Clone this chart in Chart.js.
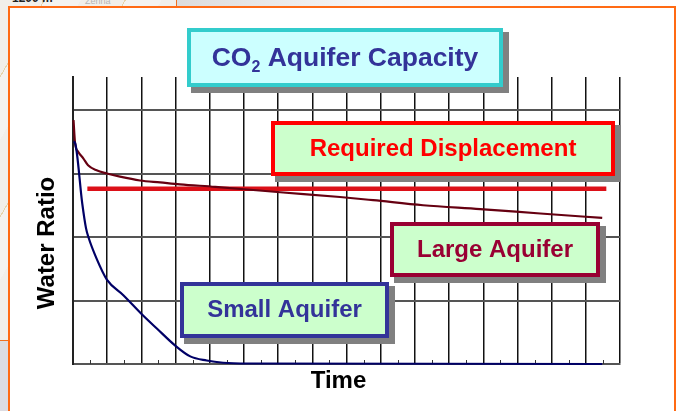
<!DOCTYPE html>
<html>
<head>
<meta charset="utf-8">
<title>CO2 Aquifer Capacity</title>
<script src="https://cdn.jsdelivr.net/npm/chart.js@4"></script>
<style>
  html, body { margin: 0; padding: 0; background: #fff; overflow: hidden; }
  #page { position: relative; width: 679px; height: 411px; overflow: hidden; }
  /* bits of the slide behind the chart frame */
  #map { position: absolute; left: 0; top: 0; width: 176px; height: 340px; background: repeating-linear-gradient(120deg, #f1efea 0 38px, #e6d3ab 38px 39px, #f4f3f0 39px 70px); border-right: 1px solid #f07020; border-bottom: 1px solid #f07020; overflow: hidden; }
  #grey { position: absolute; left: 0; top: 341px; width: 8px; height: 70px; background: #dcdce2; }
  #fade { position: absolute; left: 177px; top: 0; width: 502px; height: 6px; background: linear-gradient(90deg, #dcdcdc, #f8f8f8 40%, #fff); }
  #scrap { position: absolute; left: 12px; top: -9px; font: bold 12px "Liberation Sans", sans-serif; color: #222; }
  #zehna { position: absolute; left: 85px; top: -4px; font: 9px "Liberation Sans", sans-serif; color: #b5b5b5; }
  #frame { position: absolute; left: 8px; top: 6px; width: 664px; height: 420px; background: #fff; border: 2px solid #ff6a13; }
  canvas { position: absolute; left: 0; top: 0; }
</style>
</head>
<body>
<div id="page">
  <div id="map"><span id="scrap">1200 m</span><span id="zehna">Zehna</span></div>
  <div id="grey"></div>
  <div id="fade"></div>
  <div id="frame"></div>
  <canvas id="aquifer" width="679" height="411"></canvas>
</div>
<script>
const ctxAquifer = document.getElementById('aquifer').getContext('2d')

// x in grid cells, y in grid rows
const largeX = [0.015, 0.06, 0.155, 0.3, 0.44, 0.69, 0.99, 1.375, 1.96, 2.55, 3.13, 4.16, 6.06, 7.81, 8.78, 10.24, 11.91, 13.67, 15.48]
const largeY = [3.84, 3.48, 3.34, 3.24, 3.13, 3.05, 3.0, 2.95, 2.89, 2.86, 2.83, 2.79, 2.705, 2.63, 2.58, 2.5, 2.44, 2.37, 2.3]
const smallX = [0.015, 0.06, 0.27, 0.38, 0.45, 0.69, 0.99, 1.48, 2.02, 2.46, 2.99, 3.43, 3.91, 4.39, 5.18, 15.48]
const smallY = [3.5, 3.48, 2.53, 2.14, 2.0, 1.66, 1.33, 1.08, 0.78, 0.555, 0.29, 0.12, 0.055, 0.02, 0.008, 0]
const requiredX = [0.42, 15.6]
const requiredY = [2.76, 2.76]
const minorTicks = [0.5, 1.5, 2.5, 3.5, 4.5, 5.5, 6.5, 7.5, 8.5, 9.5, 10.5, 11.5, 12.5, 13.5, 14.5, 15.5]

const toPoints = (xs, ys) => xs.map((x, i) => ({ x: x, y: ys[i] }))
const FONT = '"Liberation Sans", Arial, sans-serif'

// the labelled boxes that sit on top of the plot
const boxes = [
  { x: 187, y: 28, w: 316, h: 59, border: '#33cccc', fill: '#ccffff', color: '#333399', size: 26.5, parts: ['CO', '2', ' Aquifer Capacity'] },
  { x: 271, y: 121, w: 344, h: 55, border: '#ff0000', fill: '#ccffcc', color: '#ff0000', size: 24, parts: ['Required Displacement'] },
  { x: 390, y: 222, w: 210, h: 55, border: '#990033', fill: '#ccffcc', color: '#990033', size: 24, parts: ['Large Aquifer'] },
  { x: 180, y: 282, w: 209, h: 56, border: '#333399', fill: '#ccffcc', color: '#333399', size: 24, parts: ['Small Aquifer'] },
]

const minorTickPlugin = {
  id: 'minorTicks',
  beforeDatasetsDraw(chart) {
    const c = chart.ctx
    const bottom = chart.chartArea.bottom
    c.save()
    c.strokeStyle = '#333'
    c.lineWidth = 1
    minorTicks.forEach(t => {
      const px = Math.round(chart.scales.x.getPixelForValue(t)) + 0.5
      c.beginPath()
      c.moveTo(px, bottom)
      c.lineTo(px, bottom - 4)
      c.stroke()
    })
    c.restore()
  },
}

// axis titles sit off centre in the reference, so they are placed by hand
const axisTitlePlugin = {
  id: 'axisTitles',
  afterDatasetsDraw(chart) {
    const c = chart.ctx
    c.save()
    c.fillStyle = '#000'
    c.font = 'bold 24px ' + FONT
    c.textAlign = 'center'
    c.textBaseline = 'alphabetic'
    c.fillText('Time', 338.5, 388)
    c.translate(54, 243)
    c.rotate(-Math.PI / 2)
    c.fillText('Water Ratio', 0, 0)
    c.restore()
  },
}

const boxPlugin = {
  id: 'boxes',
  afterDraw(chart) {
    const c = chart.ctx
    c.save()
    boxes.forEach(b => {
      c.fillStyle = '#808080'
      c.fillRect(b.x + 4, b.y + 4, b.w + 2, b.h + 2)
      c.fillStyle = b.border
      c.fillRect(b.x, b.y, b.w, b.h)
      c.fillStyle = b.fill
      c.fillRect(b.x + 4, b.y + 4, b.w - 8, b.h - 8)

      const font = 'bold ' + b.size + 'px ' + FONT
      const subFont = 'bold ' + Math.round(b.size * 0.62) + 'px ' + FONT
      const isSub = i => b.parts.length > 1 && i === 1
      let total = 0
      b.parts.forEach((p, i) => {
        c.font = isSub(i) ? subFont : font
        total += c.measureText(p).width
      })
      let tx = b.x + (b.w - total) / 2
      const ty = b.y + b.h / 2 + b.size * 0.35 - 1
      c.fillStyle = b.color
      c.textAlign = 'left'
      c.textBaseline = 'alphabetic'
      b.parts.forEach((p, i) => {
        c.font = isSub(i) ? subFont : font
        c.fillText(p, tx, isSub(i) ? ty + 6 : ty)
        tx += c.measureText(p).width
      })
    })
    c.restore()
  },
}

const dataAquifer = {
  datasets: [
    {
      label: 'Small Aquifer',
      data: toPoints(smallX, smallY),
      borderColor: '#000066',
      borderWidth: 2.2,
      pointRadius: 0,
      cubicInterpolationMode: 'monotone',
    },
    {
      label: 'Large Aquifer',
      data: toPoints(largeX, largeY),
      borderColor: '#660011',
      borderWidth: 2.2,
      pointRadius: 0,
      cubicInterpolationMode: 'monotone',
    },
    {
      label: 'Required Displacement',
      data: toPoints(requiredX, requiredY),
      borderColor: '#dc1018',
      borderWidth: 4.5,
      pointRadius: 0,
      tension: 0,
    },
  ],
}

const configAquifer = {
  type: 'scatter',
  data: dataAquifer,
  options: {
    responsive: false,
    animation: false,
    showLine: true,
    clip: false,
    layout: { padding: { top: 77, right: 59, left: 0, bottom: 0 } },
    plugins: { legend: { display: false }, tooltip: { enabled: false } },
    scales: {
      x: {
        type: 'linear',
        min: 0,
        max: 16,
        afterFit: scale => { scale.height = 47 },
        ticks: { stepSize: 1, display: false },
        grid: { color: '#111', lineWidth: 1.5, drawTicks: false },
        border: { color: '#555', width: 2 },
      },
      y: {
        type: 'linear',
        min: 0,
        max: 4.52,
        afterFit: scale => { scale.width = 73 },
        ticks: { stepSize: 1, display: false, includeBounds: false },
        grid: { color: '#555', lineWidth: 2, drawTicks: false },
        border: { color: '#222', width: 2 },
      },
    },
  },
  plugins: [minorTickPlugin, axisTitlePlugin, boxPlugin],
}
const AquiferChart = new Chart(ctxAquifer, configAquifer)
</script>
</body>
</html>
